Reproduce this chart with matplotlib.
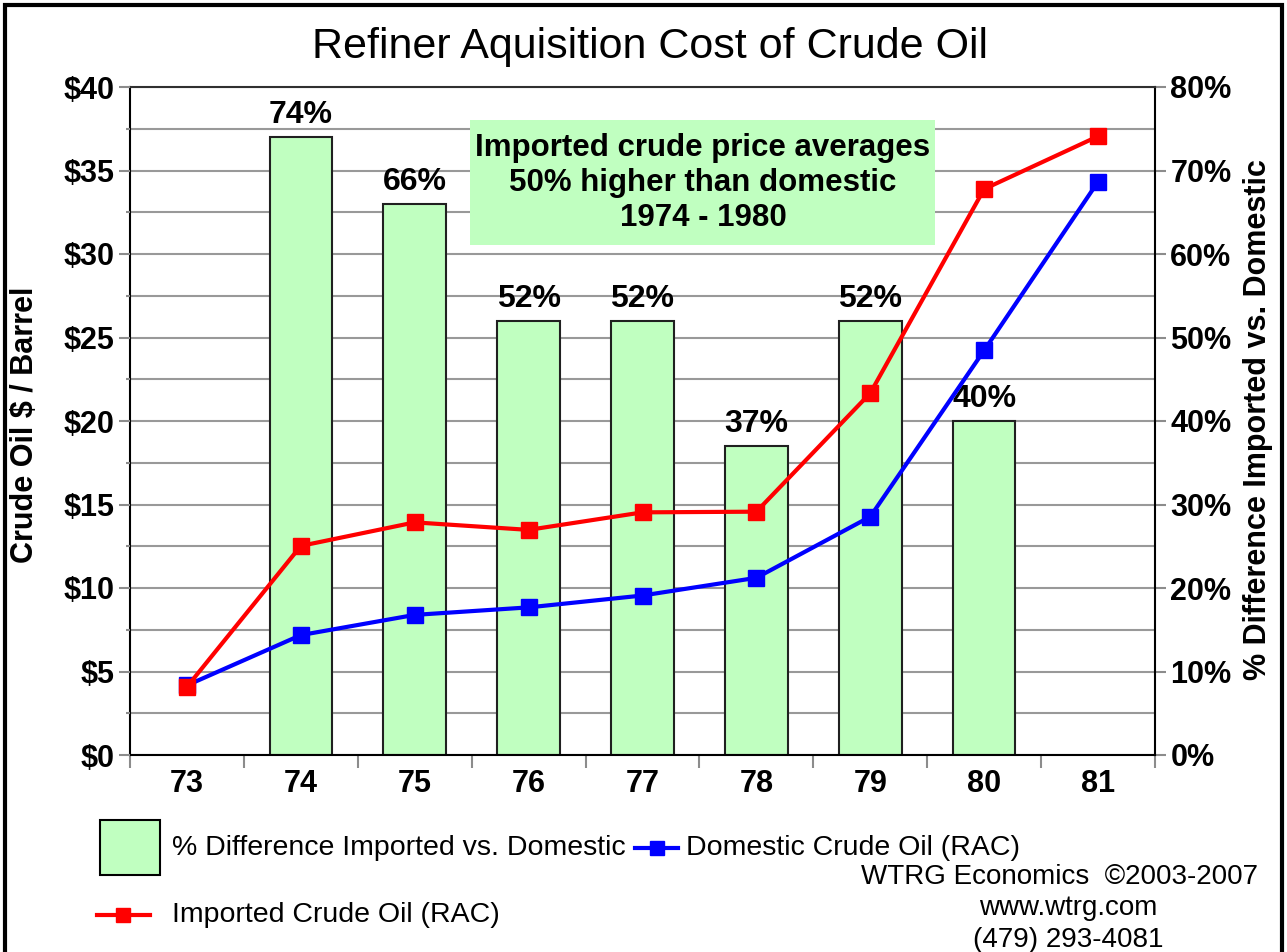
import matplotlib
matplotlib.use("Agg")
import matplotlib.pyplot as plt
from matplotlib.patches import Rectangle
from matplotlib.lines import Line2D

# ---- data -------------------------------------------------------------
years = ["73", "74", "75", "76", "77", "78", "79", "80", "81"]
pct_years = ["74", "75", "76", "77", "78", "79", "80"]
pct_diff = [74, 66, 52, 52, 37, 52, 40]          # % imported above domestic
domestic = [4.17, 7.18, 8.39, 8.84, 9.55, 10.61, 14.27, 24.23, 34.33]
imported = [4.08, 12.52, 13.93, 13.48, 14.53, 14.57, 21.67, 33.89, 37.05]
dollar_ticks = [0, 5, 10, 15, 20, 25, 30, 35, 40]
pct_ticks = [0, 10, 20, 30, 40, 50, 60, 70, 80]

# ---- style ------------------------------------------------------------
plt.rcParams["font.family"] = ["Liberation Sans", "DejaVu Sans"]
BAR_GREEN = "#C0FFC0"
GRID = "#999999"
TICK = "#8c8c8c"

W, H = 1287, 952
fig = plt.figure(figsize=(W / 100, H / 100), dpi=100)
fig.patch.set_facecolor("white")

L, R, B, T = 130, 1155, 755, 87
ax = fig.add_axes([L / W, 1 - B / H, (R - L) / W, (B - T) / H])
axd = ax.twinx()
ax.yaxis.tick_right()
ax.yaxis.set_label_position("right")
axd.yaxis.tick_left()
axd.yaxis.set_label_position("left")

xpos = list(range(len(years)))
bar_x = [years.index(y) for y in pct_years]

# percent bars (right axis)
ax.bar(bar_x, pct_diff, width=0.55, color=BAR_GREEN, edgecolor="#202020",
       linewidth=1.5, zorder=2)
for x, v in zip(bar_x, pct_diff):
    ax.annotate(f"{v}%", (x, v), xytext=(0, 5), textcoords="offset points",
                ha="center", va="bottom", fontsize=23, fontweight="bold",
                zorder=3)

ax.set_ylim(0, 80)
ax.set_xlim(-0.5, len(years) - 0.5)
ax.set_yticks(pct_ticks)
ax.set_yticklabels([f"{t}%" for t in pct_ticks])
ax.set_yticks([t + 5 for t in pct_ticks[:-1]], minor=True)
ax.set_axisbelow(True)
ax.grid(axis="y", which="both", color=GRID, linewidth=1.5)
ax.tick_params(axis="y", which="major", length=8, width=1.5, color=TICK,
               pad=3, labelsize=22)
ax.tick_params(axis="y", which="minor", length=0)
for lbl in ax.get_yticklabels():
    lbl.set_fontweight("bold")

# category axis
ax.set_xticks(xpos)
ax.set_xticklabels(years, fontsize=22, fontweight="bold")
ax.set_xticks([p - 0.5 for p in xpos] + [len(years) - 0.5], minor=True)
ax.tick_params(axis="x", which="major", length=0, pad=10)
ax.tick_params(axis="x", which="minor", length=9, width=1.5, color=TICK)

for side in ["left", "right", "bottom"]:
    ax.spines[side].set_color("black")
    ax.spines[side].set_linewidth(1.5)
ax.spines["top"].set_color("#303030")
ax.spines["top"].set_linewidth(1.5)
for s in axd.spines.values():
    s.set_visible(False)

ax.set_ylabel("% Difference Imported vs. Domestic", fontsize=22,
              fontweight="bold", rotation=90)
ax.yaxis.label.set(ha="center", va="center")
ax.yaxis.set_label_coords((1258 - L) / (R - L), (B - 420) / (B - T))

# price lines (left axis)
axd.plot(xpos, domestic, color="#0000FF", linewidth=3, marker="s",
         markersize=11, markeredgecolor="#0000FF", zorder=4)
axd.plot(xpos, imported, color="#FF0000", linewidth=3, marker="s",
         markersize=11, markeredgecolor="#FF0000", zorder=5)
axd.set_ylim(0, 40)
axd.set_yticks(dollar_ticks)
axd.set_yticklabels([f"${t}" for t in dollar_ticks])
axd.set_yticks([t + 2.5 for t in dollar_ticks[:-1]], minor=True)
axd.tick_params(axis="y", which="major", length=8, width=1.5, color=TICK,
                pad=3, labelsize=22)
axd.tick_params(axis="y", which="minor", length=3, width=1.5, color=TICK)
for lbl in axd.get_yticklabels():
    lbl.set_fontweight("bold")
axd.set_ylabel("Crude Oil $ / Barrel", fontsize=22, fontweight="bold")
axd.yaxis.label.set(ha="center", va="center")
axd.yaxis.set_label_coords((25 - L) / (R - L), (B - 425) / (B - T))

# title
fig.text(650 / W, 1 - 47 / H, "Refiner Aquisition Cost of Crude Oil",
         ha="center", va="center", fontsize=31)

# annotation box
fig.patches.append(Rectangle((470 / W, 1 - 245 / H), 465 / W, 125 / H,
                             transform=fig.transFigure, facecolor=BAR_GREEN,
                             edgecolor="none", zorder=6))
fig.text(703 / W, 1 - 183 / H,
         "Imported crude price averages\n50% higher than domestic\n1974 - 1980",
         ha="center", va="center", fontsize=22.5, fontweight="bold",
         linespacing=1.2, zorder=7)

# legend
fig.patches.append(Rectangle((100 / W, 1 - 875 / H), 60 / W, 55 / H,
                             transform=fig.transFigure, facecolor=BAR_GREEN,
                             edgecolor="black", linewidth=1.5))
fig.text(172 / W, 1 - 848 / H, "% Difference Imported vs. Domestic",
         ha="left", va="center", fontsize=20.5)

fig.lines.append(Line2D([635 / W, 678 / W], [1 - 848 / H] * 2,
                        transform=fig.transFigure, color="#0000FF", lw=3))
fig.lines.append(Line2D([657 / W], [1 - 848 / H], transform=fig.transFigure,
                        color="#0000FF", marker="s", markersize=10))
fig.text(686 / W, 1 - 848 / H, "Domestic Crude Oil (RAC)",
         ha="left", va="center", fontsize=20.5)

fig.lines.append(Line2D([97 / W, 150 / W], [1 - 915 / H] * 2,
                        transform=fig.transFigure, color="#FF0000", lw=3))
fig.lines.append(Line2D([123 / W], [1 - 915 / H], transform=fig.transFigure,
                        color="#FF0000", marker="s", markersize=10))
fig.text(172 / W, 1 - 915 / H, "Imported Crude Oil (RAC)",
         ha="left", va="center", fontsize=20.5)

# credits
fig.text(1258 / W, 1 - 877 / H, "WTRG Economics  \u00a92003-2007",
         ha="right", va="center", fontsize=20)
fig.text(1068 / W, 1 - 908 / H, "www.wtrg.com",
         ha="center", va="center", fontsize=20)
fig.text(1068 / W, 1 - 940 / H, "(479) 293-4081",
         ha="center", va="center", fontsize=20)

# outer frame
fig.patches.append(Rectangle((5 / W, -0.05), 1277 / W, 1.05 - 5 / H,
                             transform=fig.transFigure, fill=False,
                             edgecolor="black", linewidth=3))

fig.savefig("out.png", dpi=100)
